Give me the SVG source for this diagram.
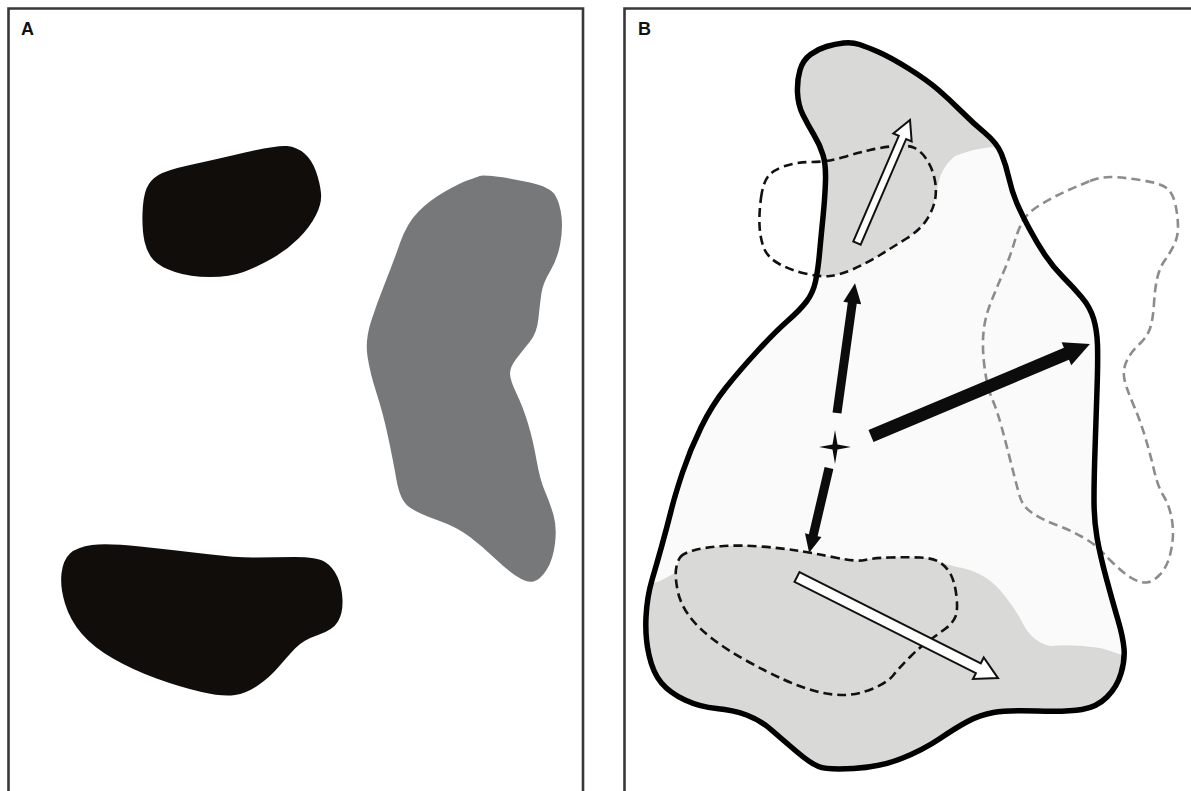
<svg xmlns="http://www.w3.org/2000/svg" width="1191" height="791" viewBox="0 0 1191 791">
<style>
.frame{fill:none;stroke:#383838;stroke-width:2.6}
.lbl{font-family:"Liberation Sans",Arial,sans-serif;font-weight:bold;font-size:18px;fill:#111}
.dk{fill:#110d0b}
.gy{fill:#76787a}
.dash{fill:none;stroke:#111;stroke-width:2.6;stroke-dasharray:9 5;stroke-linejoin:round}
.gdash{fill:none;stroke:#8c8c8c;stroke-width:2.6;stroke-dasharray:9 5;stroke-linejoin:round}
.blk{fill:#0c0c0c}
.wht{fill:#fff;stroke:#111;stroke-width:2;stroke-linejoin:miter}
.gray{fill:#d9d9d7}
</style>
<defs>
<clipPath id="outClip">
<path id="outlinePath" d="M826.5,46.5 Q835,44 843.5,43 Q852,42 859.5,44.5 Q867,47 878.5,52 Q890,57 908.5,68.5 Q927,80 938.5,90 Q950,100 961.5,111.5 Q973,123 985,133 Q997,143 1001.5,154 Q1006,165 1009,178.5 Q1012,192 1017,203.5 Q1022,215 1029.5,229 Q1037,243 1045,255 Q1053,267 1063,277 Q1073,287 1081.5,297 Q1090,307 1093.5,318.5 Q1097,330 1097.5,345 Q1098,360 1097,390 Q1096,420 1095,450 Q1094,480 1094,500 Q1094,520 1097,537.5 Q1100,555 1106.5,579 Q1113,603 1118,620 Q1123,637 1124,648.5 Q1125,660 1121,673.5 Q1117,687 1107,697 Q1097,707 1082,709.5 Q1067,712 1037,711 Q1007,710 993.5,712.5 Q980,715 968.5,721 Q957,727 940,738.5 Q923,750 901.5,758.5 Q880,767 853.5,768.5 Q827,770 818.5,766.5 Q810,763 796.5,751.5 Q783,740 771.5,730 Q760,720 746.5,715 Q733,710 716.5,708.5 Q700,707 685,700 Q670,693 661.5,683 Q653,673 649,655 Q645,637 646,617 Q647,597 652,580 Q657,563 662,545 Q667,527 671,511 Q675,495 682.5,472.5 Q690,450 701,427.5 Q712,405 726,387.5 Q740,370 757.5,351 Q775,332 787.5,321 Q800,310 806.5,301.5 Q813,293 815.5,281.5 Q818,270 819.5,253.5 Q821,237 823,217 Q825,197 825.5,181 Q826,165 823,155 Q820,145 814,135 Q808,125 803,115 Q798,105 797.5,92.5 Q797,80 800,70 Q803,60 810.5,54.5 Q818,49 826.5,46.5 Z"/>
</clipPath>
</defs>
<rect width="1191" height="791" fill="#fff"/>

<g id="panelA">
<path class="frame" d="M8.5,795 V8.5 H583 V795"/>
<text class="lbl" x="21" y="35">A</text>
<path id="blobA1" class="dk" d="M158.5,175 Q167,170 190,165 Q213,160 245,152.5 Q277,145 287,146 Q297,147 304.5,153.5 Q312,160 316,171.5 Q320,183 321,193 Q322,203 316,215 Q310,227 298.5,238.5 Q287,250 272,258.5 Q257,267 243.5,272 Q230,277 210,277 Q190,277 175,272 Q160,267 153.5,260 Q147,253 144.5,241.5 Q142,230 142.5,213.5 Q143,197 146.5,188.5 Q150,180 158.5,175 Z"/>
<path id="blobA2" class="dk" d="M70,553.5 Q77,547 92,545 Q107,543 140,546.5 Q173,550 206.5,554 Q240,558 256.5,557.5 Q273,557 295,557 Q317,557 325,562 Q333,567 337.5,577 Q342,587 342.5,600 Q343,613 338,621.5 Q333,630 318,635 Q303,640 295,648.5 Q287,657 278.5,667 Q270,677 258.5,685 Q247,693 235,695 Q223,697 201.5,692 Q180,687 156.5,678.5 Q133,670 113,658.5 Q93,647 81.5,633.5 Q70,620 65,603.5 Q60,587 61.5,573.5 Q63,560 70,553.5 Z"/>
<path id="blobA3" class="gy" d="M496,176.5 Q510,178 530,182.5 Q550,187 555,195 Q560,203 561.5,216.5 Q563,230 560,245 Q557,260 550,271.5 Q543,283 541.5,293 Q540,303 538.5,318 Q537,333 530,341.5 Q523,350 516.5,358.5 Q510,367 510,373.5 Q510,380 516.5,393.5 Q523,407 528,423.5 Q533,440 536.5,460 Q540,480 545,491.5 Q550,503 553.5,515 Q557,527 555,543.5 Q553,560 546.5,570 Q540,580 533.5,581.5 Q527,583 517,576.5 Q507,570 495,558.5 Q483,547 470,537 Q457,527 437,520 Q417,513 408.5,506.5 Q400,500 396.5,480 Q393,460 388,436.5 Q383,413 376.5,393 Q370,373 367.5,356.5 Q365,340 371,321.5 Q377,303 385,283 Q393,263 400,243 Q407,223 418.5,211.5 Q430,200 445,191.5 Q460,183 468.5,180 Q477,177 479.5,176 Q482,175 496,176.5 Z"/>
</g>

<g id="panelB">
<path class="frame" d="M624.5,795 V8.5 H1195"/>
<text class="lbl" x="638" y="35">B</text>
<g id="region">
<use href="#outlinePath" fill="#fafafa"/>
<g clip-path="url(#outClip)">
<path class="gray" d="M700,20 L1030,20 L1030,140 L1000,146 Q975,148 955,156 Q940,168 937,190 Q933,210 926.5,220 Q920,230 906.5,238.5 Q893,247 880,255 Q867,263 853.5,269 Q840,275 830,276 Q820,277 805,273.5 L700,273 Z"/>
<path class="gray" d="M630,590 L660,581 L677,572 Q677,562 680,557.5 Q683,553 695,550 Q707,547 723.5,546 Q740,545 760,546.5 Q780,548 796.5,550.5 Q813,553 835,557.5 Q857,562 865,560 Q873,558 890,557.5 Q907,557 920,557.5 Q933,558 940,562.5 L957,567 Q983,571 1000,590 Q1015,608 1022,622 Q1032,642 1050,646 Q1075,644 1100,648 Q1115,652 1135,660 L1140,790 L630,790 Z"/>
</g>
</g>
<path id="dashTop" class="dash" d="M761,198 Q763,183 768,176.5 Q773,170 785,166 Q797,162 812,162 Q827,162 842,157.5 Q857,153 870,150 Q883,147 895,146 Q907,145 913.5,147.5 Q920,150 926,158.5 Q932,167 934.5,178.5 Q937,190 935,200 Q933,210 926.5,220 Q920,230 906.5,238.5 Q893,247 880,255 Q867,263 853.5,269 Q840,275 830,276 Q820,277 805,273.5 Q790,270 778.5,263.5 Q767,257 763.5,247 Q760,237 759.5,225 Q759,213 761,198 Z"/>
<path id="dashBottom" class="dash" d="M680,557.5 Q683,553 695,550 Q707,547 723.5,546 Q740,545 760,546.5 Q780,548 796.5,550.5 Q813,553 835,557.5 Q857,562 865,560 Q873,558 890,557.5 Q907,557 920,557.5 Q933,558 940,562.5 Q947,567 951,575 Q955,583 956.5,596.5 Q958,610 955.5,616.5 Q953,623 945,629 Q937,635 928.5,641 Q920,647 910,657 Q900,667 893.5,675 Q887,683 872,689 Q857,695 843.5,695 Q830,695 815,691 Q800,687 783.5,679.5 Q767,672 747,661 Q727,650 712,638.5 Q697,627 688.5,615 Q680,603 677.5,590 Q675,577 676,569.5 Q677,562 680,557.5 Z"/>
<path id="dashRight" class="gdash" d="M1090,181 Q1100,177 1110,177 Q1120,177 1140,180 Q1160,183 1166.5,188 Q1173,193 1175.5,205 Q1178,217 1178,227 Q1178,237 1174,245 Q1170,253 1165,260 Q1160,267 1157.5,277 Q1155,287 1154,303.5 Q1153,320 1150,328.5 Q1147,337 1140,343.5 Q1133,350 1129,356.5 Q1125,363 1124,370 Q1123,377 1126.5,387 Q1130,397 1135,408.5 Q1140,420 1145,436.5 Q1150,453 1154,470 Q1158,487 1163,495 Q1168,503 1170.5,513 Q1173,523 1173,533 Q1173,543 1170,555 Q1167,567 1160,574.5 Q1153,582 1146.5,582.5 Q1140,583 1131.5,578 Q1123,573 1113,563 Q1103,553 1098,548 Q1093,543 1081.5,536.5 Q1070,530 1056.5,525 Q1043,520 1033,513.5 Q1023,507 1020,497 Q1017,487 1012,467 Q1007,447 1002,428.5 Q997,410 992,398.5 Q987,387 984.5,367 Q982,347 983.5,332 Q985,317 991,302 Q997,287 1003.5,272 Q1010,257 1014,243.5 Q1018,230 1022.5,221.5 Q1027,213 1040,205 Q1053,197 1066.5,191 Q1080,185 1090,181 Z"/>
<use id="outline" href="#outlinePath" fill="none" stroke="#000" stroke-width="5.5" stroke-linejoin="round"/>
<path id="origin" class="blk" d="M835,430 L837.5,444.5 L851,447 L837.5,449.5 L835,464 L832.5,449.5 L819,447 L832.5,444.5 Z"/>
</g>

<g id="connectors">
<polygon class="blk" transform="translate(837,413) rotate(-82.1)" points="0,-4.5 111,-4.5 111,-9 131,0 111,9 111,4.5 0,4.5"/>
<polygon class="blk" transform="translate(871,436) rotate(-22.8)" points="0,-6.5 212,-6.5 212,-12.5 237.5,0 212,12.5 212,6.5 0,6.5"/>
<polygon class="blk" transform="translate(829,468) rotate(103.2)" points="0,-4.5 69,-4.5 69,-8.5 87,0 69,8.5 69,4.5 0,4.5"/>
<polygon class="wht" transform="translate(857,243) rotate(-66.7)" points="0,-4 115,-4 115,-10 134,0 115,10 115,4 0,4"/>
<polygon class="wht" transform="translate(797,577) rotate(26.7)" points="0,-5.5 203,-5.5 203,-12 225,0 203,12 203,5.5 0,5.5"/>
</g>
</svg>
